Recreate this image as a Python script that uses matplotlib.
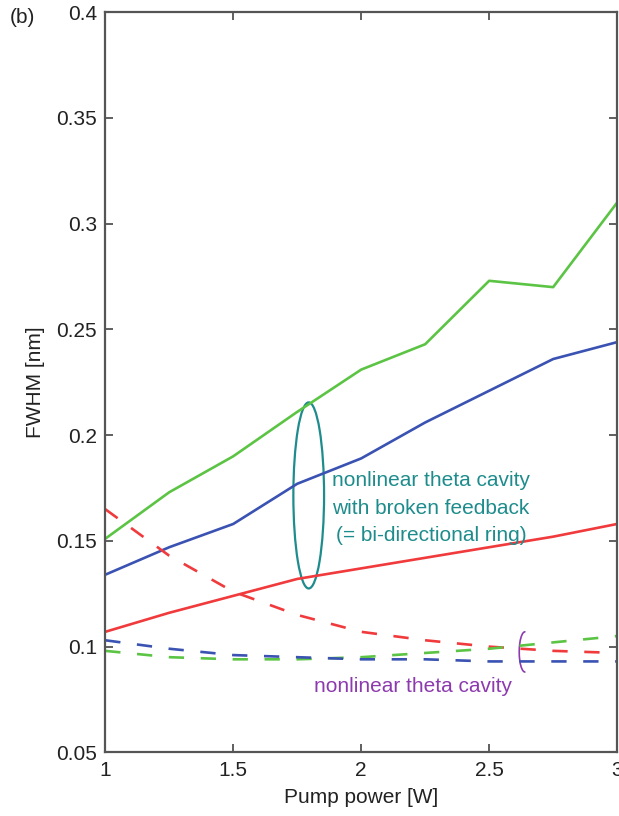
import matplotlib.pyplot as plt
from matplotlib.patches import Ellipse, Arc

plt.rcParams['font.family'] = ['Liberation Sans', 'DejaVu Sans']

# pump power sweep [W]
pump = [1.0, 1.25, 1.5, 1.75, 2.0, 2.25, 2.5, 2.75, 3.0]

# broken feedback (bi-directional ring), solid lines
ring_green = [0.151, 0.173, 0.190, 0.211, 0.231, 0.243, 0.273, 0.270, 0.310]
ring_blue = [0.134, 0.147, 0.158, 0.177, 0.189, 0.206, 0.221, 0.236, 0.244]
ring_red = [0.107, 0.116, 0.124, 0.132, 0.137, 0.142, 0.147, 0.152, 0.158]

# nonlinear theta cavity, dashed lines
theta_red = [0.165, 0.143, 0.126, 0.115, 0.107, 0.103, 0.100, 0.098, 0.097]
theta_green = [0.098, 0.095, 0.094, 0.094, 0.095, 0.097, 0.099, 0.102, 0.105]
theta_blue = [0.103, 0.099, 0.096, 0.095, 0.094, 0.094, 0.093, 0.093, 0.093]

xticks = [1, 1.5, 2, 2.5, 3]
xticklabels = ['1', '1.5', '2', '2.5', '3']
yticks = [0.05, 0.1, 0.15, 0.2, 0.25, 0.3, 0.35, 0.4]
yticklabels = ['0.05', '0.1', '0.15', '0.2', '0.25', '0.3', '0.35', '0.4']

GREEN = '#5cc444'
BLUE = '#3a52b2'
RED = '#f03a3c'
TEAL = '#1e8c8c'
PURPLE = '#8c3aae'

fig = plt.figure(figsize=(6.19, 8.16), dpi=100)
ax = fig.add_axes([0.170, 0.078, 0.827, 0.907])

lw = 1.9
dash = (0, (5.8, 6.3))
ax.plot(pump, ring_green, color=GREEN, lw=lw)
ax.plot(pump, ring_blue, color=BLUE, lw=lw)
ax.plot(pump, ring_red, color=RED, lw=lw)
ax.plot(pump, theta_red, color=RED, lw=lw, linestyle=dash)
ax.plot(pump, theta_green, color=GREEN, lw=lw, linestyle=dash)
ax.plot(pump, theta_blue, color=BLUE, lw=lw, linestyle=dash)

# grouping marks
ax.add_patch(Ellipse((1.795, 0.1715), width=0.12, height=0.088, angle=0,
                     fill=False, edgecolor=TEAL, lw=1.6))
ax.add_patch(Arc((2.64, 0.0975), width=0.045, height=0.019, theta1=80,
                 theta2=280, edgecolor=PURPLE, lw=1.2))

ax.text(2.273, 0.1655, 'nonlinear theta cavity\nwith broken feedback\n(= bi-directional ring)',
        color=TEAL, fontsize=15, ha='center', va='center', multialignment='center',
        linespacing=1.55)
ax.text(1.816, 0.0812, 'nonlinear theta cavity', color=PURPLE, fontsize=15,
        ha='left', va='center')

ax.set_xlim(1, 3)
ax.set_ylim(0.05, 0.4)
ax.set_xticks(xticks)
ax.set_xticklabels(xticklabels)
ax.set_yticks(yticks)
ax.set_yticklabels(yticklabels)
ax.tick_params(direction='in', length=6, width=1.2, colors='#444444',
               labelcolor='#222222', labelsize=15, top=True, right=True, pad=6)
for s in ax.spines.values():
    s.set_color('#555555')
    s.set_linewidth(1.6)

ax.set_xlabel('Pump power [W]', fontsize=15, color='#222222', labelpad=6)
ax.set_ylabel('FWHM [nm]', fontsize=15, color='#222222', labelpad=8)

fig.text(0.016, 0.978, '(b)', fontsize=15, color='#222222', va='center')

fig.savefig('out.png', dpi=100)
